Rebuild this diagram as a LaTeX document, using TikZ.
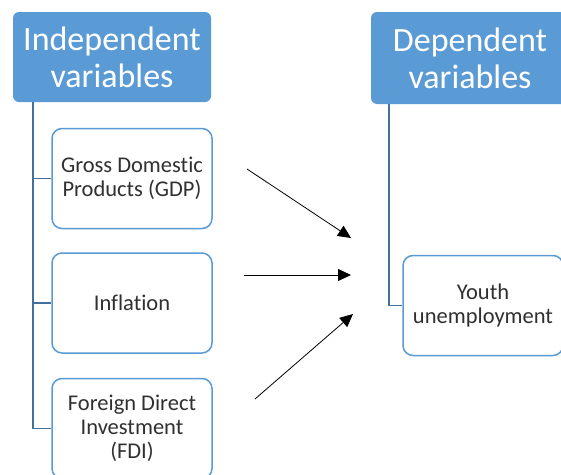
\documentclass[tikz,border=0pt]{standalone}
\usepackage{fontspec}
\setmainfont{Carlito}[Ligatures=NoCommon]
\usetikzlibrary{arrows.meta}
\definecolor{hdrblue}{HTML}{5B9BD5}
\definecolor{treeblue}{HTML}{41719C}
\definecolor{txtgray}{HTML}{303030}

\begin{document}
\begin{tikzpicture}[x=1pt,y=-1pt,
    hdr/.style={fill=hdrblue,rounded corners=6pt,text=white,font=\fontsize{34}{37}\selectfont,align=center,inner sep=0pt},
    item/.style={draw=hdrblue,line width=1.5pt,fill=white,rounded corners=10pt,text=txtgray,font=\fontsize{22.5}{24}\selectfont,align=center,inner sep=0pt,minimum width=160pt,minimum height=100pt},
    tree/.style={draw=treeblue,line width=1.8pt},
    arr/.style={-{Triangle[length=13pt,width=12pt]},line width=0.8pt}]
            \clip (0,0) rectangle (561,474);
            \fill[white] (0,0) rectangle (561,474);
            \node[hdr,minimum width=198pt,minimum height=90pt] (indep) at (112,57) {Independent\\variables};
            \node[hdr,minimum width=198pt,minimum height=92pt] (dep) at (470,58) {Dependent\\variables};
            \node[item] (gdp) at (132,178.5) {Gross Domestic\\Products (GDP)};
            \node[item] (infl) at (132,303) {Inflation};
            \node[item] (fdi) at (132,428.5) {Foreign Direct\\Investment\\(FDI)};
            \node[item] (youth) at (483,305.5) {Youth\\unemployment};
            \coordinate (itop) at ([xshift=20pt]indep.south west);
            \coordinate (dtop) at ([xshift=18pt]dep.south west);
            \draw[tree] (itop) |- (fdi.west);
            \draw[tree] (itop |- gdp.west) -- (gdp.west);
            \draw[tree] (itop |- infl.west) -- (infl.west);
            \draw[tree] (dtop) |- (youth.west);
            \coordinate (g1) at (247,169);
            \coordinate (g2) at (351,238);
            \coordinate (i1) at (244,275);
            \coordinate (i2) at (351,275);
            \coordinate (f1) at (255,399);
            \coordinate (f2) at (353,314);
            \draw[arr] (g1) -- (g2);
            \draw[arr] (i1) -- (i2);
            \draw[arr] (f1) -- (f2);
        \end{tikzpicture}
\end{document}
